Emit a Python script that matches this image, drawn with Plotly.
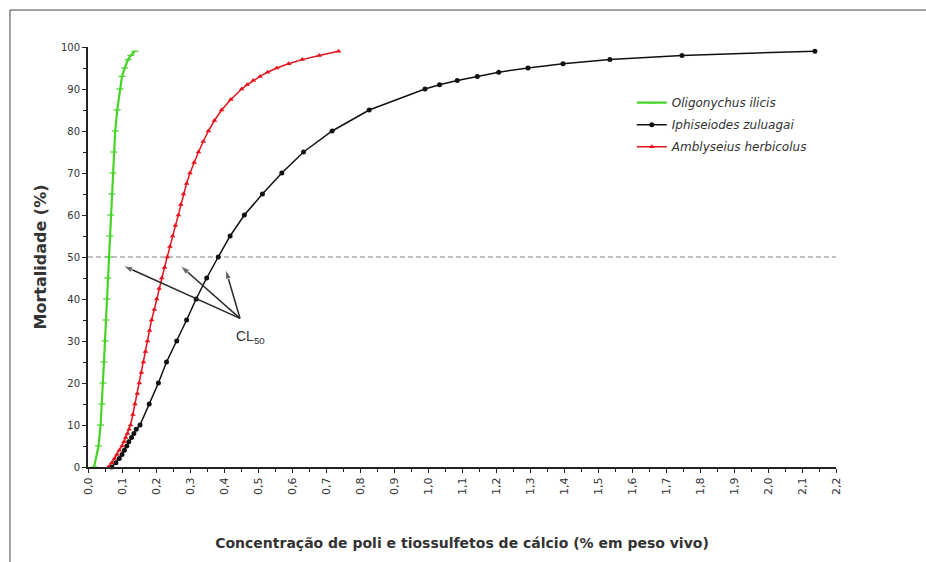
import plotly.graph_objects as go

# ---------------- data ----------------
oligonychus_y = [0, 5, 10, 15, 20, 25, 30, 35, 40, 45, 50, 55, 60, 65, 70, 75, 80, 85, 90, 93, 95, 97, 98, 99]
oligonychus_x = [0.018, 0.031, 0.037, 0.041, 0.044, 0.047, 0.050, 0.053, 0.055, 0.058, 0.062, 0.064,
                 0.067, 0.070, 0.073, 0.076, 0.080, 0.086, 0.094, 0.100, 0.108, 0.118, 0.126, 0.138]

iphiseiodes_y = [0, 1, 2, 3, 4, 5, 6, 7, 8, 9, 10, 15, 20, 25, 30, 35, 40, 45, 50, 55, 60, 65, 70, 75,
                 80, 85, 90, 91, 92, 93, 94, 95, 96, 97, 98, 99]
iphiseiodes_x = [0.070, 0.082, 0.092, 0.100, 0.107, 0.114, 0.120, 0.128, 0.135, 0.142, 0.153, 0.180,
                 0.207, 0.231, 0.261, 0.290, 0.318, 0.349, 0.383, 0.418, 0.460, 0.513, 0.570, 0.634,
                 0.718, 0.827, 0.991, 1.034, 1.086, 1.145, 1.208, 1.294, 1.397, 1.535, 1.747, 2.138]

amblyseius_y = [0, 1, 2, 3, 4, 5, 6, 7, 8, 9, 10, 12.5, 15, 17.5, 20, 22.5, 25, 27.5, 30, 32.5, 35,
                37.5, 40, 42.5, 45, 47.5, 50, 52.5, 55, 57.5, 60, 62.5, 65, 67.5, 70, 72.5, 75, 77.5,
                80, 82.5, 85, 87.5, 90, 91, 92, 93, 94, 95, 96, 97, 98, 99]
amblyseius_x = [0.060, 0.070, 0.078, 0.085, 0.092, 0.100, 0.106, 0.111, 0.116, 0.121, 0.125, 0.132,
                0.138, 0.145, 0.151, 0.157, 0.163, 0.169, 0.175, 0.181, 0.187, 0.195, 0.202, 0.209,
                0.217, 0.225, 0.233, 0.241, 0.249, 0.257, 0.266, 0.273, 0.281, 0.290, 0.300, 0.312,
                0.325, 0.339, 0.354, 0.372, 0.393, 0.420, 0.452, 0.468, 0.486, 0.506, 0.528, 0.555,
                0.590, 0.630, 0.680, 0.737]

series_names = ["Oligonychus ilicis", "Iphiseiodes zuluagai", "Amblyseius herbicolus"]

x_tick_values = [0.0, 0.1, 0.2, 0.3, 0.4, 0.5, 0.6, 0.7, 0.8, 0.9, 1.0, 1.1,
                 1.2, 1.3, 1.4, 1.5, 1.6, 1.7, 1.8, 1.9, 2.0, 2.1, 2.2]
x_tick_labels = ["0,0", "0,1", "0,2", "0,3", "0,4", "0,5", "0,6", "0,7", "0,8", "0,9", "1,0", "1,1",
                 "1,2", "1,3", "1,4", "1,5", "1,6", "1,7", "1,8", "1,9", "2,0", "2,1", "2,2"]
y_tick_values = [0, 10, 20, 30, 40, 50, 60, 70, 80, 90, 100]

cl50_level = 50
# CL50 pointers: label anchor, common tail and the three arrow tips (x, y)
cl50_label = (0.478, 31.0)
cl50_tail = (0.447, 35.4)
cl50_tips_x = [0.104, 0.272, 0.405]
cl50_tips_y = [47.9, 47.9, 47.0]

# ---------------- figure ----------------
fig = go.Figure()

fig.add_trace(go.Scatter(
    x=oligonychus_x, y=oligonychus_y, name="<i>" + series_names[0] + "</i>",
    legendgroup="g1", mode="lines+markers", cliponaxis=False,
    line=dict(color="#45d425", width=2.2),
    marker=dict(symbol="line-ew", size=5, line=dict(color="#45d425", width=1.2), color="#45d425"),
))
fig.add_trace(go.Scatter(
    x=iphiseiodes_x, y=iphiseiodes_y, name="<i>" + series_names[1] + "</i>",
    legendgroup="g2", mode="lines+markers", cliponaxis=False,
    line=dict(color="#111111", width=1.5),
    marker=dict(symbol="circle", size=5, color="#111111"),
))
fig.add_trace(go.Scatter(
    x=amblyseius_x, y=amblyseius_y, name="<i>" + series_names[2] + "</i>",
    legendgroup="g3", mode="lines+markers", cliponaxis=False,
    line=dict(color="#e5141e", width=1.5),
    marker=dict(symbol="triangle-up", size=5, color="#e5141e"),
))

# CL50 arrows (drawn as lines ending with arrow markers)
for tx, ty in zip(cl50_tips_x, cl50_tips_y):
    fig.add_trace(go.Scatter(
        x=[cl50_tail[0], tx], y=[cl50_tail[1], ty], mode="lines+markers",
        showlegend=False, hoverinfo="skip", cliponaxis=False,
        line=dict(color="#2a2a2a", width=1.5),
        marker=dict(symbol=["circle", "arrow"], size=[0, 10], angleref="previous",
                    color="#2a2a2a"),
    ))

# horizontal 50 % reference line
fig.add_shape(type="line", xref="x", yref="y", x0=0, x1=2.2, y0=cl50_level, y1=cl50_level,
              line=dict(color="#808080", width=1, dash="5px,3px"), layer="below")

# outer frame (left and top edges visible)
fig.add_shape(type="line", xref="paper", yref="paper", x0=-0.1043, x1=-0.1043, y0=-0.3, y1=1.088,
              line=dict(color="#444444", width=1))
fig.add_shape(type="line", xref="paper", yref="paper", x0=-0.1043, x1=1.2, y0=1.088, y1=1.088,
              line=dict(color="#444444", width=1))

fig.add_annotation(x=cl50_label[0], y=cl50_label[1], xref="x", yref="y",
                   text="CL<sub>50</sub>", showarrow=False,
                   font=dict(family="Arial, Liberation Sans, sans-serif", size=14, color="#333333"))

tick_font_x = dict(family="DejaVu Sans, Verdana, sans-serif", size=11, color="#333333")
tick_font_y = dict(family="DejaVu Sans, Verdana, sans-serif", size=10, color="#333333")

fig.update_layout(
    width=926, height=562,
    margin=dict(l=88, r=90, t=47, b=95),
    paper_bgcolor="white", plot_bgcolor="white",
    showlegend=True,
    legend=dict(x=0.727, y=0.902, xanchor="left", yanchor="top",
                bgcolor="rgba(0,0,0,0)", itemwidth=30, tracegroupgap=3,
                font=dict(family="DejaVu Sans, Verdana, sans-serif", size=12, color="#333333")),
    xaxis=dict(
        range=[0, 2.2], tickmode="array", tickvals=x_tick_values, ticktext=x_tick_labels,
        tickangle=-90, tickfont=tick_font_x, ticks="outside", ticklen=4, tickwidth=1,
        tickcolor="#222222",
        minor=dict(dtick=0.05, tick0=0, ticks="outside", ticklen=3, tickcolor="#222222"),
        showline=True, linewidth=2, linecolor="#222222", showgrid=False, zeroline=False,
        title=dict(text="Concentração de poli e tiossulfetos de cálcio (% em peso vivo)",
                   font=dict(family="DejaVu Sans, Verdana, sans-serif", size=14,
                             color="#333333", weight="bold"),
                   standoff=44),
    ),
    yaxis=dict(
        range=[0, 100], tickmode="array", tickvals=y_tick_values, tickfont=tick_font_y,
        ticks="outside", ticklen=4, tickwidth=1, tickcolor="#222222",
        minor=dict(dtick=5, tick0=0, ticks="outside", ticklen=3, tickcolor="#222222"),
        showline=True, linewidth=2, linecolor="#222222", showgrid=False, zeroline=False,
        title=dict(text="Mortalidade (%)",
                   font=dict(family="DejaVu Sans, Verdana, sans-serif", size=16,
                             color="#333333", weight="bold"),
                   standoff=10),
    ),
)

fig.write_html("out.html")
